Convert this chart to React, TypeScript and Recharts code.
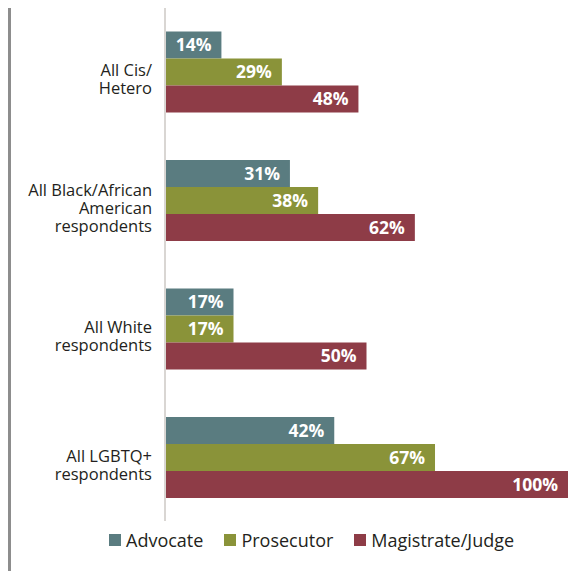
import React from "react";
import { BarChart, Bar, XAxis, YAxis, Legend, LabelList } from "recharts";

const categories = [
  "All Cis/\nHetero",
  "All Black/African\nAmerican\nrespondents",
  "All White\nrespondents",
  "All LGBTQ+\nrespondents",
];
const advocate = [14, 31, 17, 42];
const prosecutor = [29, 38, 17, 67];
const judge = [48, 62, 50, 100];

const seriesNames = ["Advocate", "Prosecutor", "Magistrate/Judge"];
const colors = ["#5a7c80", "#8a9339", "#8e3c47"];

const data = categories.map((name, i) => ({
  name,
  advocate: advocate[i],
  prosecutor: prosecutor[i],
  judge: judge[i],
}));

const FONT = "'Open Sans', sans-serif";

const CategoryTick = (props: any) => {
  const { x, y, payload } = props;
  const lines = String(payload.value).split("\n");
  const start = -(lines.length - 1) * 9 + 14;
  return (
    <g transform={`translate(${x},${y})`}>
      <text textAnchor="end" fill="#231f20" fontFamily={FONT} fontSize="16.5px">
        {lines.map((l, i) => (
          <tspan key={i} x={0} y={start + i * 18}>
            {l}
          </tspan>
        ))}
      </text>
    </g>
  );
};

const LegendContent = () => (
  <div style={{ display: "flex", alignItems: "center", fontFamily: FONT, fontSize: 18, color: "#231f20" }}>
    {seriesNames.map((n, i) => (
      <div key={n} style={{ display: "flex", alignItems: "center", marginRight: 21 }}>
        <span style={{ width: 12, height: 12, background: colors[i], display: "inline-block", marginRight: 5 }} />
        <span>{n}</span>
      </div>
    ))}
  </div>
);

const pct = (v: any) => `${v}%`;

const App = () => {
  return (
    <div style={{ marginTop: -8, width: 565, height: 571, borderLeft: "3px solid #8d8d8d", position: "relative" }}>
      <BarChart
        width={565}
        height={571}
        data={data}
        layout="vertical"
        margin={{ top: 7, right: 8, left: 0, bottom: 50 }}
        barCategoryGap="19%"
        barGap={0}
      >
        <XAxis type="number" domain={[0, 100]} hide />
        <YAxis
          type="category"
          dataKey="name"
          width={154}
          axisLine={{ stroke: "#d9d6d3", strokeWidth: 2 }}
          tickLine={false}
          tickSize={0}
          tickMargin={13}
          tick={<CategoryTick />}
          interval={0}
        />
        <Legend
          layout="horizontal"
          verticalAlign="middle"
          align="center"
          content={<LegendContent />}
          wrapperStyle={{ top: 528, left: 98, width: "auto" }}
        />
        <Bar dataKey="advocate" fill={colors[0]} isAnimationActive={false}>
          <LabelList dataKey="advocate" position="insideRight" offset={10} formatter={pct} fill="#fff" fontFamily={FONT} fontWeight={700} fontSize={17.5} />
        </Bar>
        <Bar dataKey="prosecutor" fill={colors[1]} isAnimationActive={false}>
          <LabelList dataKey="prosecutor" position="insideRight" offset={10} formatter={pct} fill="#fff" fontFamily={FONT} fontWeight={700} fontSize={17.5} />
        </Bar>
        <Bar dataKey="judge" fill={colors[2]} isAnimationActive={false}>
          <LabelList dataKey="judge" position="insideRight" offset={10} formatter={pct} fill="#fff" fontFamily={FONT} fontWeight={700} fontSize={17.5} />
        </Bar>
      </BarChart>
    </div>
  );
};

export default App;
